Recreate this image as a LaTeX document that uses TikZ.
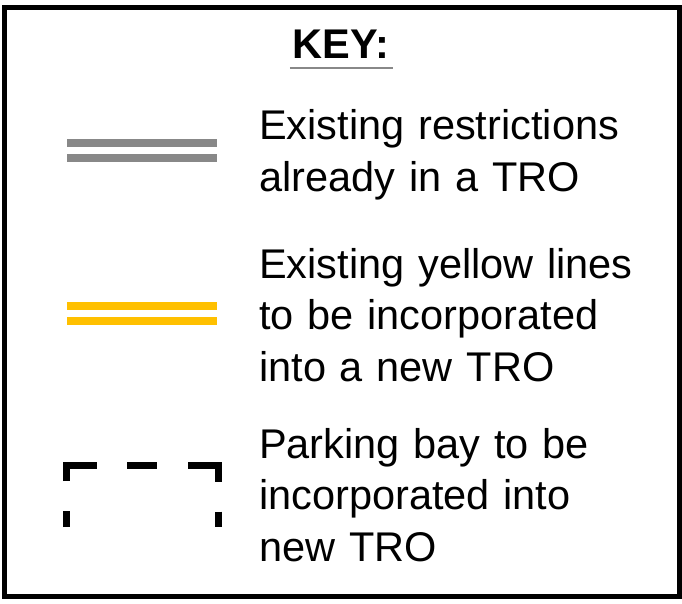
\documentclass[tikz,border=0pt]{standalone}
\usepackage{fontspec}
\setmainfont{Liberation Sans}
\usepackage{tikz}
\usetikzlibrary{calc}
\definecolor{restrgray}{RGB}{136,136,136}
\definecolor{troyellow}{RGB}{255,192,0}

\begin{document}
\begin{tikzpicture}[x=1pt,y=-1pt, %% pixel units, y down
            keytext/.style={anchor=base west, inner sep=0pt, text width=410pt, align=left,
                font=\fontsize{41.5}{51.5}\selectfont},
            grayline/.style={restrgray, line width=8pt},
            yellowline/.style={troyellow, line width=8pt},
            bayline/.style={line width=7pt, miter limit=10,
                dash pattern=on 16pt off 30pt on 46pt off 30pt on 30pt off 31pt on 46pt off 30pt on 16pt off 100pt}]
            \useasboundingbox (0,0) rectangle (682,604);
            \fill[white] (0,0) rectangle (682,604);

            \draw[line width=5pt] (4.5,7.5) rectangle (679.5,596);

            \node (key) [anchor=base, inner sep=0pt, font=\fontsize{41.5}{50}\selectfont\bfseries] at (341,59) {KEY:};
            \draw[restrgray, line width=2pt] ($(key.base west)+(-3,9)$) -- ($(key.base east)+(4,9)$);

            \draw[grayline] (67,143) -- (217,143);
            \draw[grayline] (67,158) -- (217,158);
            \node (restr) [keytext] at (259,140) {Existing restrictions\\already in a TRO};

            \draw[yellowline] (67,306) -- (217,306);
            \draw[yellowline] (67,321) -- (217,321);
            \node (yellow) [keytext] at (259,278) {Existing yellow lines\\to be incorporated\\into a new TRO};

            \draw[bayline] (66.5,527) -- (66.5,465.5) -- (218,465.5) -- (218,527);
            \node (bay) [keytext] at (259,458) {Parking bay to be\\incorporated into\\new TRO};
\end{tikzpicture}
\end{document}
